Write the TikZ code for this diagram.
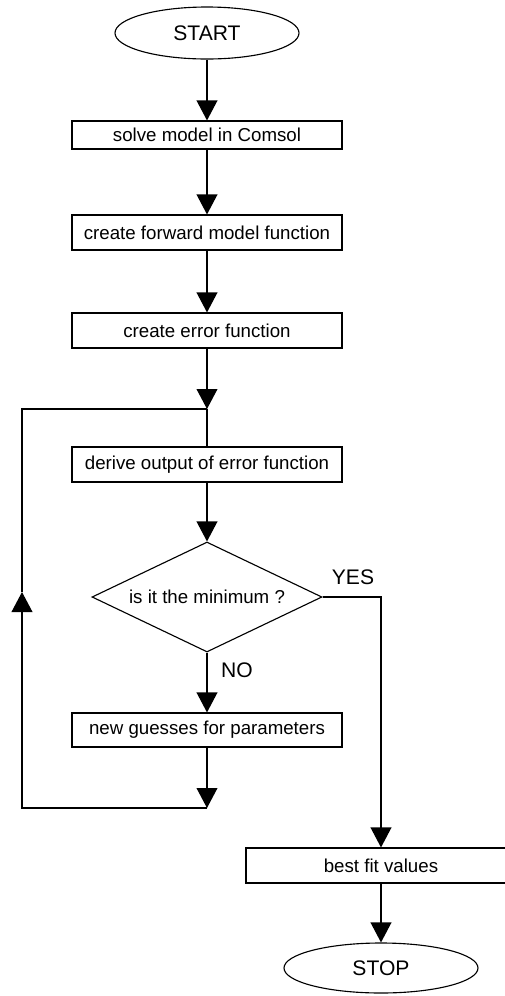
\documentclass[tikz,border=0pt]{standalone}
\usepackage{fontspec}
\setmainfont{Liberation Sans}
\usetikzlibrary{arrows.meta,shapes.geometric}
\tikzset{
  chartbox/.style={
    draw,
    line width=0.8pt,
    minimum width=6.75cm,
    minimum height=0.875cm,
    inner sep=0pt,
    font=\fontsize{13.3}{16}\selectfont
  },
  chartend/.style={
    draw,
    ellipse,
    line width=0.8pt,
    minimum width=4.6cm,
    minimum height=1.3cm,
    inner sep=0pt,
    font=\fontsize{15}{18}\selectfont
  },
  chartdecide/.style={
    draw,
    diamond,
    aspect=2.1,
    line width=0.8pt,
    minimum width=5.75cm,
    minimum height=2.75cm,
    inner sep=0pt,
    font=\fontsize{13.3}{16}\selectfont
  },
  chartlabel/.style={
    font=\fontsize{15}{18}\selectfont,
    inner sep=0pt
  },
  chartwire/.style={
    line width=0.9pt
  },
  chartline/.style={
    line width=0.9pt,
    -{Triangle[length=5mm,width=5.2mm]}
  }
}
\begin{document}
\begin{tikzpicture}[x=1cm,y=1cm]
  \useasboundingbox (0,0) rectangle (12.6,-24.9);
  \node[chartend] (start) at (5.175,-0.825) {START};
  \node[chartbox,minimum height=0.7cm] (solve) at (5.175,-3.375) {solve model in Comsol};
  \node[chartbox] (forward) at (5.175,-5.8125) {create forward model function};
  \node[chartbox] (error) at (5.175,-8.2625) {create error function};
  \node[chartbox] (derive) at (5.175,-11.6125) {derive output of error function};
  \node[chartdecide] (test) at (5.175,-14.925) {is it the minimum ?};
  \node[chartbox,minimum height=0.85cm] (guesses) at (5.175,-18.25) {new guesses for parameters};
  \node[chartbox] (bestfit) at (9.525,-21.6375) {best fit values};
  \node[chartend,minimum width=4.85cm,minimum height=1.25cm] (stop) at (9.525,-24.2) {STOP};
  \node[chartlabel] (yes) at (8.825,-14.425) {YES};
  \node[chartlabel] (no) at (5.925,-16.75) {NO};
  \coordinate (upjoin) at (5.175,-10.225);
  \coordinate (lowjoin) at (5.175,-20.2);
  \coordinate (upleft) at (0.55,-10.225);
  \coordinate (lowleft) at (0.55,-20.2);
  \coordinate (uptip) at (0.55,-14.8);
  \coordinate (yescorner) at (9.525,-14.925);
  \draw[chartline] (start) -- (solve);
  \draw[chartline] (solve) -- (forward);
  \draw[chartline] (forward) -- (error);
  \draw[chartline] (error) -- (upjoin);
  \draw[chartwire] (upjoin) -- (derive);
  \draw[chartline] (derive) -- (test);
  \draw[chartline] (test) -- (guesses);
  \draw[chartline] (guesses) -- (lowjoin);
  \draw[chartline] (lowjoin) -- (lowleft) -- (uptip);
  \draw[chartwire] (uptip) -- (upleft) -- (upjoin);
  \draw[chartline] (test.east) -- (yescorner) -- (bestfit);
  \draw[chartline] (bestfit) -- (stop);
\end{tikzpicture}
\end{document}
